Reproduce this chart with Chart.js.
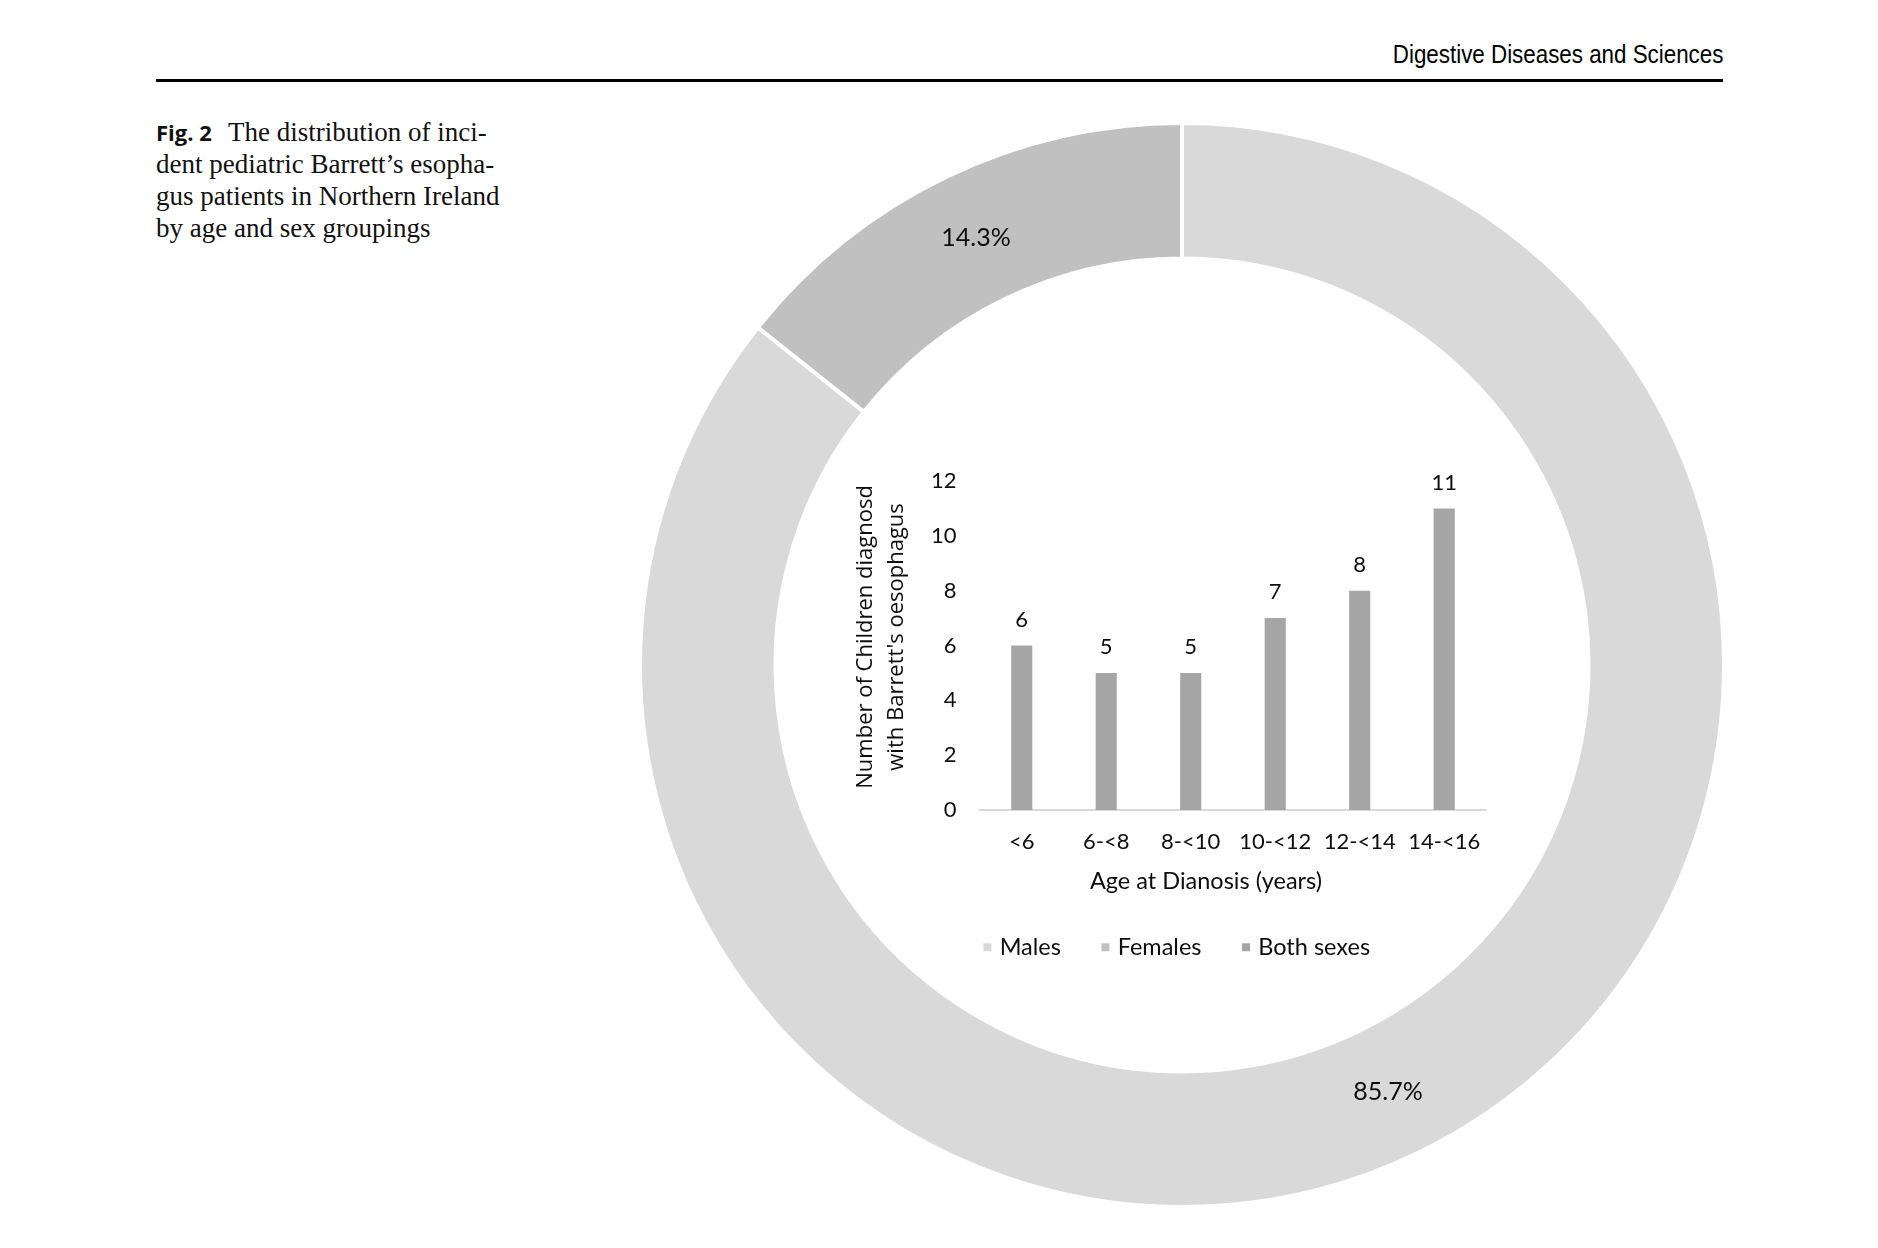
<!DOCTYPE html>
<html>
<head>
<meta charset="utf-8">
<title>Fig. 2</title>
<script src="https://cdn.jsdelivr.net/npm/chart.js@4.4.1/dist/chart.umd.min.js"></script>
<style>
    html, body { margin: 0; padding: 0; background: #fff; }
    body { width: 1878px; height: 1248px; position: relative; overflow: hidden; }
    #journal { position: absolute; right: 155px; top: 39px; font: 26px "Liberation Sans", sans-serif; color: #000; white-space: nowrap; transform: scaleX(0.86); transform-origin: right center; }
    #rule { position: absolute; left: 156px; top: 79px; width: 1567px; height: 3px; background: #000; }
    #caption { position: absolute; left: 156px; top: 116px; font: 27px/32px "Liberation Serif", serif; color: #111; white-space: nowrap; }
    #caption b { font: bold 22px "Open Sans", sans-serif; margin-right: 10px; }
    #donutChart { position: absolute; left: 622px; top: 105px; }
    #barChart { position: absolute; left: 830px; top: 430px; }
</style>
</head>
<body>
<div id="journal">Digestive Diseases and Sciences</div>
<div id="rule"></div>
<div id="caption"><b>Fig. 2</b> The distribution of inci-<br>dent pediatric Barrett’s esopha-<br>gus patients in Northern Ireland<br>by age and sex groupings</div>
<canvas id="donutChart" width="1120" height="1120"></canvas>
<canvas id="barChart" width="670" height="539"></canvas>
<script>
// données
const sexLabels = ['Males', 'Females'];
const sexShares = [85.7, 14.3];

const ageGroups = ['<6', '6-<8', '8-<10', '10-<12', '12-<14', '14-<16'];
const barSeriesLabel = 'Both sexes';
const barCounts = [6, 5, 5, 7, 8, 11];

const yTicks = [0, 2, 4, 6, 8, 10, 12];
const yTitle = ['Number of Children diagnosd', "with Barrett's oesophagus"];
const xTitle = 'Age at Dianosis (years)';

// couleurs
const MALE_COLOR = '#d9d9d9';
const FEMALE_COLOR = '#c0c0c0';
const BOTH_COLOR = '#a5a5a5';
const TEXT_COLOR = '#0d0d0d';
const labelFont = { family: 'Lato', size: 22 };

// pourcentages au milieu de chaque secteur
const donutLabels = {
    id: 'donutLabels',
    afterDatasetsDraw(chart) {
        const ctx = chart.ctx;
        const meta = chart.getDatasetMeta(0);
        ctx.save();
        ctx.font = '25px Lato';
        ctx.fillStyle = TEXT_COLOR;
        ctx.textAlign = 'center';
        ctx.textBaseline = 'middle';
        meta.data.forEach((arc, i) => {
            const pos = arc.tooltipPosition();
            ctx.fillText(sexShares[i].toFixed(1) + '%', pos.x, pos.y);
        });
        ctx.restore();
    }
};

// valeurs au-dessus des barres
const barValues = {
    id: 'barValues',
    afterDatasetsDraw(chart) {
        const ctx = chart.ctx;
        const meta = chart.getDatasetMeta(0);
        ctx.save();
        ctx.font = '22px Lato';
        ctx.fillStyle = TEXT_COLOR;
        ctx.textAlign = 'center';
        ctx.textBaseline = 'middle';
        meta.data.forEach((bar, i) => {
            ctx.fillText(String(barCounts[i]), bar.x, bar.y - 26);
        });
        ctx.restore();
    }
};

// titre de l'axe x, un peu décalé à gauche comme dans Excel
const xAxisTitle = {
    id: 'xAxisTitle',
    afterDraw(chart) {
        const ctx = chart.ctx;
        const area = chart.chartArea;
        ctx.save();
        ctx.font = '23.5px Lato';
        ctx.fillStyle = TEXT_COLOR;
        ctx.textAlign = 'center';
        ctx.textBaseline = 'middle';
        ctx.fillText(xTitle, (area.left + area.right) / 2 - 27, area.bottom + 71);
        ctx.restore();
    }
};

window.addEventListener('load', () => {
    const ctxD = document.getElementById('donutChart').getContext('2d');
    new Chart(ctxD, {
        type: 'doughnut',
        data: {
            labels: sexLabels,
            datasets: [{
                data: sexShares,
                backgroundColor: [MALE_COLOR, FEMALE_COLOR],
                borderColor: '#ffffff',
                borderWidth: 4
            }]
        },
        options: {
            responsive: false,
            animation: false,
            radius: 542,
            cutout: '75%',
            plugins: {
                legend: { display: false },
                tooltip: { enabled: false }
            }
        },
        plugins: [donutLabels]
    });

    // légende commune : secteurs + barres
    const legendNames = sexLabels.concat([barSeriesLabel]);
    const legendColors = [MALE_COLOR, FEMALE_COLOR, BOTH_COLOR];
    const legendItems = legendNames.map((name, i) => ({
        text: name,
        fillStyle: legendColors[i],
        strokeStyle: legendColors[i],
        fontColor: TEXT_COLOR,
        lineWidth: 0,
        pointStyle: 'rect',
        rotation: 0,
        hidden: false,
        datasetIndex: 0
    }));

    const ctxB = document.getElementById('barChart').getContext('2d');
    new Chart(ctxB, {
        type: 'bar',
        data: {
            labels: ageGroups,
            datasets: [{
                label: barSeriesLabel,
                data: barCounts,
                backgroundColor: BOTH_COLOR,
                barPercentage: 0.25,
                categoryPercentage: 1
            }]
        },
        options: {
            responsive: false,
            animation: false,
            layout: { padding: { top: 51, right: 10, left: 37, bottom: 0 } },
            plugins: {
                tooltip: { enabled: false },
                legend: {
                    position: 'bottom',
                    onClick: null,
                    labels: {
                        font: { family: 'Lato', size: 23.5 },
                        color: TEXT_COLOR,
                        usePointStyle: true,
                        boxWidth: 1,
                        boxHeight: 8,
                        padding: 44,
                        generateLabels: () => legendItems
                    }
                }
            },
            scales: {
                x: {
                    grid: { display: false, drawTicks: false },
                    border: { display: true, color: '#d9d9d9', width: 2 },
                    ticks: { font: labelFont, color: TEXT_COLOR, padding: 19 },
                    afterFit: (scale) => { scale.height = 81.5; }
                },
                y: {
                    min: yTicks[0],
                    max: yTicks[yTicks.length - 1],
                    grid: { display: false, drawTicks: false },
                    border: { display: false },
                    afterBuildTicks: (scale) => { scale.ticks = yTicks.map(v => ({ value: v })); },
                    ticks: { font: labelFont, color: TEXT_COLOR, padding: 23 },
                    title: {
                        display: true,
                        // espaces en tête : le titre est un peu remonté dans l'original
                        text: yTitle.map(s => '   ' + s),
                        font: { family: 'Open Sans', size: 22, lineHeight: 1.41 },
                        color: TEXT_COLOR,
                        padding: { top: -16.5, bottom: 0 }
                    },
                    afterFit: (scale) => { scale.width = 112.5; }
                }
            }
        },
        plugins: [barValues, xAxisTitle]
    });
});
</script>
</body>
</html>
